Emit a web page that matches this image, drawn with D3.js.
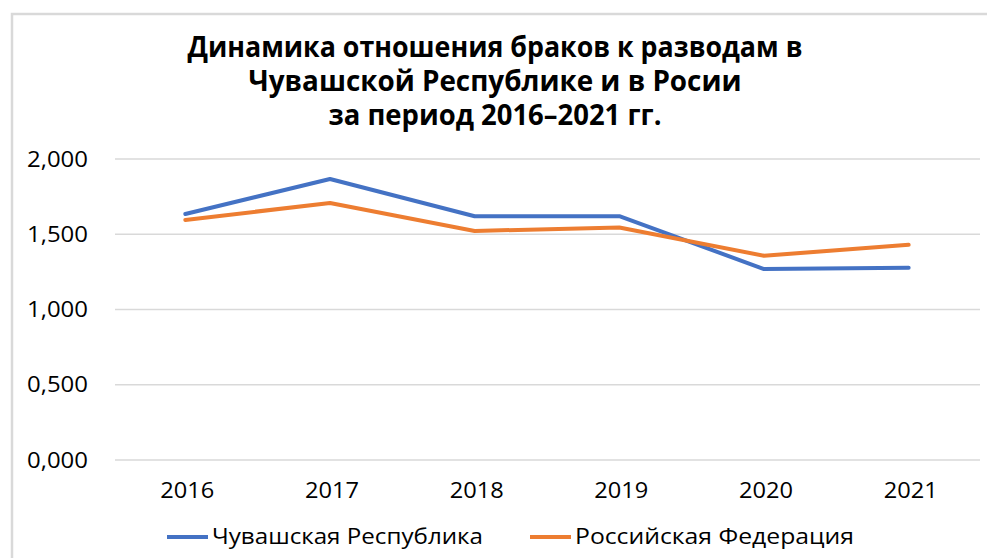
<!DOCTYPE html>
<html>
<head>
<meta charset="utf-8">
<script src="https://cdn.jsdelivr.net/npm/d3@7"></script>
<style>
  body { margin: 0; background: #fff; }
  text { font-family: "Open Sans", sans-serif; fill: #000; }
</style>
</head>
<body>
<div id="chart"></div>
<script>
// data
var years = ["2016", "2017", "2018", "2019", "2020", "2021"]
var chuvashia = [1.635, 1.867, 1.620, 1.620, 1.269, 1.277]
var russia = [1.595, 1.708, 1.522, 1.545, 1.357, 1.430]
var yTicks = [0, 0.5, 1, 1.5, 2]
var titleLines = ["Динамика отношения браков к разводам в", "Чувашской Республике и в Росии", "за период 2016–2021 гг."]
var seriesNames = ["Чувашская Республика", "Российская Федерация"]
var colors = ["#4472C4", "#ED7D31"]

var width = 987, height = 558

var svg = d3.select("#chart")
    .append("svg")
    .attr("width", width)
    .attr("height", height)

// chart frame (right side runs off the picture)
svg.append("path")
    .attr("d", "M12,560 V14 H990")
    .attr("fill", "none")
    .attr("stroke", "#d9d9d9")
    .attr("stroke-width", 2.5)

// title
var titleW = [615, 493, 333]
svg.selectAll(".title")
    .data(titleLines)
    .enter()
    .append("text")
    .attr("x", 495)
    .attr("y", function(d, i) { return 57 + i * 34 })
    .attr("text-anchor", "middle")
    .attr("font-size", 29)
    .attr("font-weight", "bold")
    .attr("textLength", function(d, i) { return titleW[i] })
    .attr("lengthAdjust", "spacingAndGlyphs")
    .text(function(d) { return d })

var x = d3.scalePoint()
    .domain(years)
    .range([113, 981])
    .padding(0.5)

var y = d3.scaleLinear()
    .domain([0, 2])
    .range([460, 159])

// gridlines
svg.selectAll(".grid")
    .data(yTicks)
    .enter()
    .append("line")
    .attr("x1", 115)
    .attr("x2", 980)
    .attr("y1", function(d) { return y(d) })
    .attr("y2", function(d) { return y(d) })
    .attr("stroke", "#d9d9d9")
    .attr("stroke-width", 1.5)

// y labels
var fmt = function(d) { return d3.format(".3f")(d).replace(".", ",") }
svg.selectAll(".ylab")
    .data(yTicks)
    .enter()
    .append("text")
    .attr("x", 88)
    .attr("y", function(d) { return y(d) })
    .attr("dy", "0.36em")
    .attr("text-anchor", "end")
    .attr("font-size", 21)
    .attr("textLength", 61)
    .attr("lengthAdjust", "spacingAndGlyphs")
    .text(fmt)

// x labels
svg.selectAll(".xlab")
    .data(years)
    .enter()
    .append("text")
    .attr("x", function(d) { return x(d) + 2 })
    .attr("y", 498)
    .attr("text-anchor", "middle")
    .attr("font-size", 22)
    .attr("textLength", 54)
    .attr("lengthAdjust", "spacingAndGlyphs")
    .text(function(d) { return d })

// lines
var line = d3.line()
    .x(function(d, i) { return x(years[i]) })
    .y(function(d) { return y(d) })

svg.selectAll(".series")
    .data([chuvashia, russia])
    .enter()
    .append("path")
    .attr("d", line)
    .attr("fill", "none")
    .attr("stroke", function(d, i) { return colors[i] })
    .attr("stroke-width", 4)
    .attr("stroke-linejoin", "round")
    .attr("stroke-linecap", "round")

// legend
var legX = [167, 530]
var legW = [271, 279]
var leg = svg.selectAll(".leg")
    .data(seriesNames)
    .enter()
    .append("g")
    .attr("transform", function(d, i) { return "translate(" + legX[i] + ",537)" })

leg.append("line")
    .attr("x1", 0)
    .attr("x2", 41)
    .attr("stroke", function(d, i) { return colors[i] })
    .attr("stroke-width", 4)

leg.append("text")
    .attr("x", 45)
    .attr("y", 7)
    .attr("font-size", 22)
    .attr("textLength", function(d, i) { return legW[i] })
    .attr("lengthAdjust", "spacingAndGlyphs")
    .text(function(d) { return d })
</script>
</body>
</html>
